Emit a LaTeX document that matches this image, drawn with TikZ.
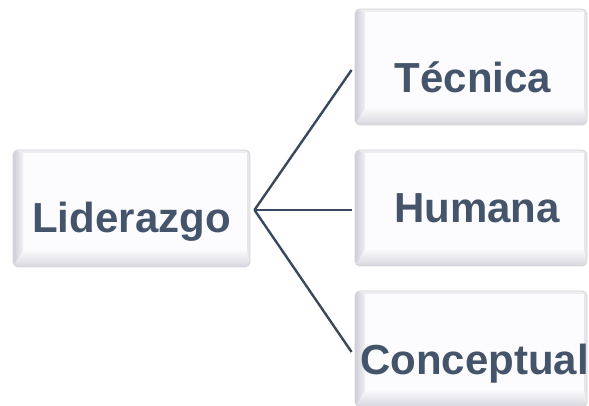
\documentclass[tikz,border=0pt]{standalone}
\usepackage{fontspec}
\setmainfont{Liberation Sans}
\usetikzlibrary{calc}

\definecolor{labelblue}{HTML}{44546A}
\definecolor{linkdark}{HTML}{3A485C}
\definecolor{boxline}{HTML}{D6D6DA}
\definecolor{boxface}{HTML}{FCFCFE}
\definecolor{bevelside}{HTML}{CDCDD8}
\definecolor{bevelbase}{HTML}{D6D6DE}
\definecolor{beveltop}{HTML}{EEEEF2}
\definecolor{bevelright}{HTML}{E6E6EB}

\tikzset{
  bevelbox/.style={rectangle, rounded corners=5pt, draw=boxline, line width=0.9pt,
    fill=boxface, inner sep=0pt,
    path picture={
      \path (path picture bounding box.north west) coordinate (bnw)
            (path picture bounding box.north east) coordinate (bne)
            (path picture bounding box.south east) coordinate (bse)
            (path picture bounding box.south west) coordinate (bsw);
      % top and right rims
      \fill[beveltop, sharp corners] (bnw) -- (bne) -- ($(bne)+(-3,-3)$) -- ($(bnw)+(10,-3)$) -- cycle;
      \fill[bevelright, sharp corners] (bne) -- (bse) -- ($(bse)+(-3,16)$) -- ($(bne)+(-3,-3)$) -- cycle;
      % left bevel
      \shade[left color=bevelside, right color=boxface!75!bevelside, sharp corners]
        (bnw) -- (bsw) -- ($(bsw)+(10,16)$) -- ($(bnw)+(10,-3)$) -- cycle;
      % bottom bevel
      \shade[bottom color=bevelbase, top color=boxface!90!bevelbase, sharp corners]
        (bsw) -- (bse) -- ($(bse)+(-3,16)$) -- ($(bsw)+(10,16)$) -- cycle;
    }},
  boxlabel/.style={anchor=base, text=labelblue, inner sep=0pt,
    font=\bfseries\fontsize{42}{42}\selectfont},
  link/.style={draw=linkdark, line width=2.4pt}
}

\begin{document}
\begin{tikzpicture}[x=1pt, y=1pt]
  \useasboundingbox (0,0) rectangle (589,406);

  % boxes
  \node[bevelbox, minimum width=237pt, minimum height=117pt] (lid) at (131.5,197.5) {};
  \node[bevelbox, minimum width=232pt, minimum height=116pt] (tec) at (471,339) {};
  \node[bevelbox, minimum width=232pt, minimum height=116pt] (hum) at (471,198) {};
  \node[bevelbox, minimum width=232pt, minimum height=116pt] (con) at (471,57) {};

  % labels
  \node[boxlabel] (lidtext) at (131.5,173) {Liderazgo};
  \node[boxlabel] (tectext) at (473,313) {Técnica};
  \node[boxlabel] (humtext) at (477,183) {Humana};
  \node[boxlabel] (context) at (474.5,31) {Conceptual};

  % branching connectors
  \coordinate (hub) at ($(lid.east)+(4,-1.5)$);
  \draw[link] (hub) -- ($(tec.west)+(-3,-3)$);
  \draw[link] (hub) -- ($(hum.west)+(-3,-2)$);
  \draw[link] (hub) -- ($(con.west)+(-3,-3)$);
\end{tikzpicture}
\end{document}
